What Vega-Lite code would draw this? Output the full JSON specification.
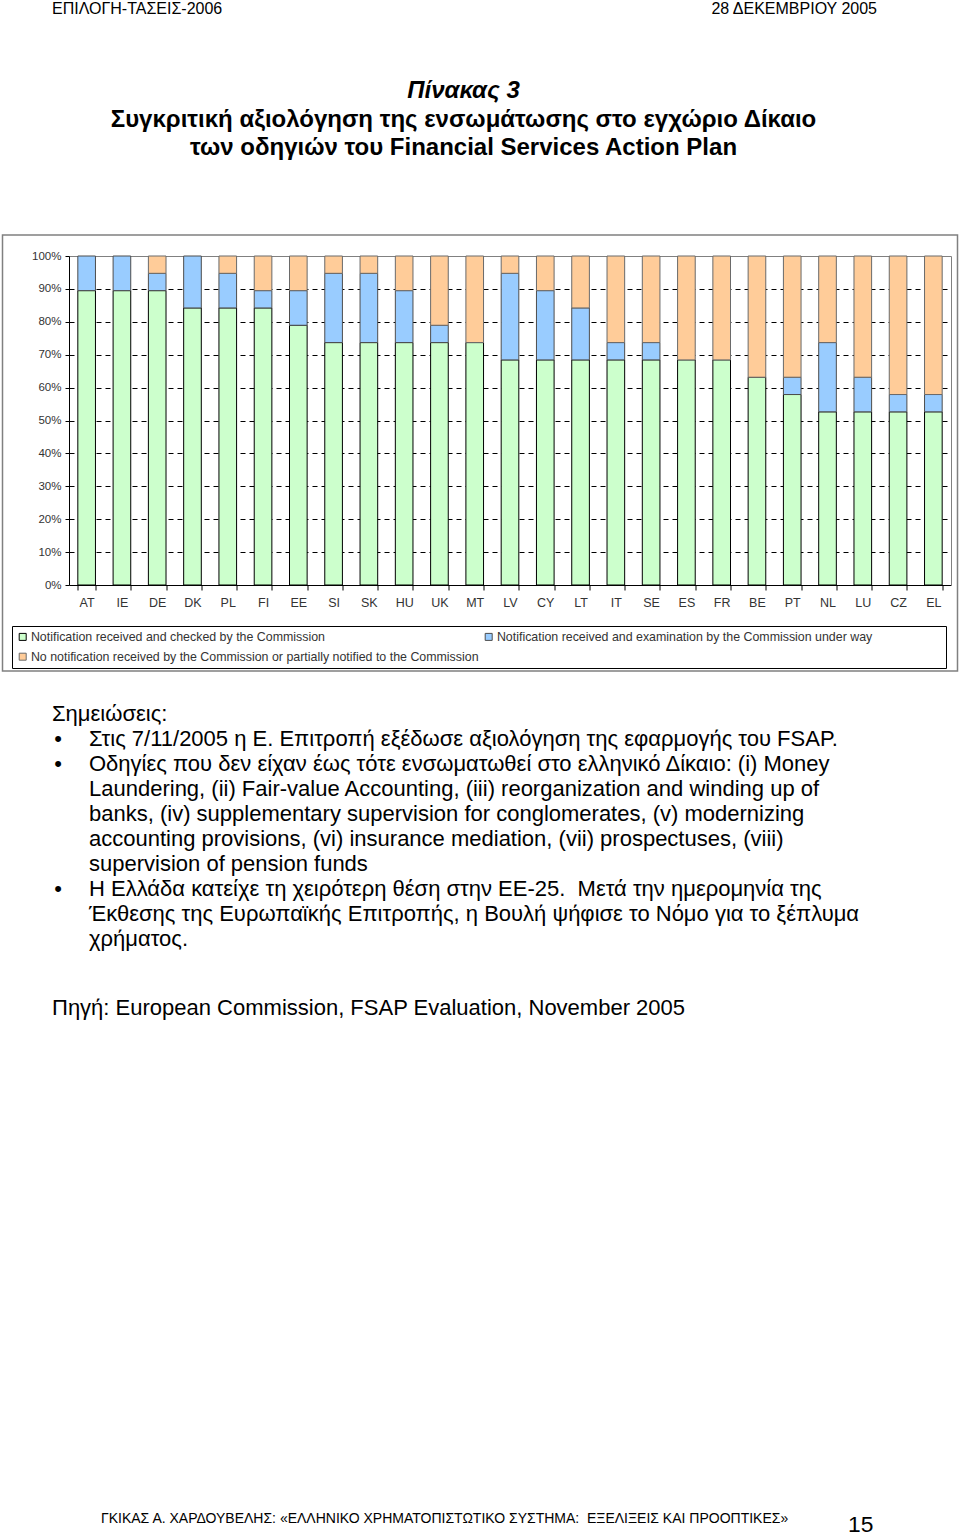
{
  "$schema": "https://vega.github.io/schema/vega-lite/v6.json",
  "padding": 0,
  "spacing": 0,
  "bounds": "flush",
  "center": true,
  "background": "white",
  "config": {"font": "Liberation Sans", "view": {"stroke": null}},
  "vconcat": [
    {
      "width": 960,
      "height": 235,
      "layer": [
        {
          "data": {"values": [{"t": "ΕΠΙΛΟΓΗ-ΤΑΣΕΙΣ-2006"}]},
          "mark": {"type": "text", "align": "left", "baseline": "middle", "fontSize": 16, "color": "#000"},
          "encoding": {"text": {"field": "t"}, "x": {"value": 52}, "y": {"value": 9}}
        },
        {
          "data": {"values": [{"t": "28  ΔΕΚΕΜΒΡΙΟΥ 2005"}]},
          "mark": {"type": "text", "align": "right", "baseline": "middle", "fontSize": 16, "color": "#000"},
          "encoding": {"text": {"field": "t"}, "x": {"value": 877}, "y": {"value": 9}}
        },
        {
          "data": {"values": [{"t": "Πίνακας 3"}]},
          "mark": {"type": "text", "align": "center", "baseline": "middle", "fontSize": 24, "fontWeight": "bold", "fontStyle": "italic", "color": "#000"},
          "encoding": {"text": {"field": "t"}, "x": {"value": 463.5}, "y": {"value": 91}}
        },
        {
          "data": {"values": [
            {"line": 1, "t": "Συγκριτική αξιολόγηση της ενσωμάτωσης στο εγχώριο Δίκαιο"},
            {"line": 2, "t": "των οδηγιών του Financial Services Action Plan"}
          ]},
          "mark": {"type": "text", "align": "center", "baseline": "middle", "fontSize": 24, "fontWeight": "bold", "color": "#000"},
          "encoding": {
            "text": {"field": "t"},
            "x": {"value": 463.5},
            "y": {"field": "line", "type": "quantitative", "scale": {"domain": [1, 2], "range": [120, 148], "nice": false, "zero": false}, "axis": null}
          }
        }
      ]
    },
    {
      "width": 955,
      "height": 436,
      "view": {"stroke": "#808080", "strokeWidth": 1.5, "fill": "white"},
      "data": {"values": [
        {"c": "AT", "s": "Notification received and checked by the Commission", "n": 17, "o": 1},
        {"c": "AT", "s": "Notification received and examination by the Commission under way", "n": 2, "o": 2},
        {"c": "IE", "s": "Notification received and checked by the Commission", "n": 17, "o": 1},
        {"c": "IE", "s": "Notification received and examination by the Commission under way", "n": 2, "o": 2},
        {"c": "DE", "s": "Notification received and checked by the Commission", "n": 17, "o": 1},
        {"c": "DE", "s": "Notification received and examination by the Commission under way", "n": 1, "o": 2},
        {"c": "DE", "s": "No notification received by the Commission or partially notified to the Commission", "n": 1, "o": 3},
        {"c": "DK", "s": "Notification received and checked by the Commission", "n": 16, "o": 1},
        {"c": "DK", "s": "Notification received and examination by the Commission under way", "n": 3, "o": 2},
        {"c": "PL", "s": "Notification received and checked by the Commission", "n": 16, "o": 1},
        {"c": "PL", "s": "Notification received and examination by the Commission under way", "n": 2, "o": 2},
        {"c": "PL", "s": "No notification received by the Commission or partially notified to the Commission", "n": 1, "o": 3},
        {"c": "FI", "s": "Notification received and checked by the Commission", "n": 16, "o": 1},
        {"c": "FI", "s": "Notification received and examination by the Commission under way", "n": 1, "o": 2},
        {"c": "FI", "s": "No notification received by the Commission or partially notified to the Commission", "n": 2, "o": 3},
        {"c": "EE", "s": "Notification received and checked by the Commission", "n": 15, "o": 1},
        {"c": "EE", "s": "Notification received and examination by the Commission under way", "n": 2, "o": 2},
        {"c": "EE", "s": "No notification received by the Commission or partially notified to the Commission", "n": 2, "o": 3},
        {"c": "SI", "s": "Notification received and checked by the Commission", "n": 14, "o": 1},
        {"c": "SI", "s": "Notification received and examination by the Commission under way", "n": 4, "o": 2},
        {"c": "SI", "s": "No notification received by the Commission or partially notified to the Commission", "n": 1, "o": 3},
        {"c": "SK", "s": "Notification received and checked by the Commission", "n": 14, "o": 1},
        {"c": "SK", "s": "Notification received and examination by the Commission under way", "n": 4, "o": 2},
        {"c": "SK", "s": "No notification received by the Commission or partially notified to the Commission", "n": 1, "o": 3},
        {"c": "HU", "s": "Notification received and checked by the Commission", "n": 14, "o": 1},
        {"c": "HU", "s": "Notification received and examination by the Commission under way", "n": 3, "o": 2},
        {"c": "HU", "s": "No notification received by the Commission or partially notified to the Commission", "n": 2, "o": 3},
        {"c": "UK", "s": "Notification received and checked by the Commission", "n": 14, "o": 1},
        {"c": "UK", "s": "Notification received and examination by the Commission under way", "n": 1, "o": 2},
        {"c": "UK", "s": "No notification received by the Commission or partially notified to the Commission", "n": 4, "o": 3},
        {"c": "MT", "s": "Notification received and checked by the Commission", "n": 14, "o": 1},
        {"c": "MT", "s": "No notification received by the Commission or partially notified to the Commission", "n": 5, "o": 3},
        {"c": "LV", "s": "Notification received and checked by the Commission", "n": 13, "o": 1},
        {"c": "LV", "s": "Notification received and examination by the Commission under way", "n": 5, "o": 2},
        {"c": "LV", "s": "No notification received by the Commission or partially notified to the Commission", "n": 1, "o": 3},
        {"c": "CY", "s": "Notification received and checked by the Commission", "n": 13, "o": 1},
        {"c": "CY", "s": "Notification received and examination by the Commission under way", "n": 4, "o": 2},
        {"c": "CY", "s": "No notification received by the Commission or partially notified to the Commission", "n": 2, "o": 3},
        {"c": "LT", "s": "Notification received and checked by the Commission", "n": 13, "o": 1},
        {"c": "LT", "s": "Notification received and examination by the Commission under way", "n": 3, "o": 2},
        {"c": "LT", "s": "No notification received by the Commission or partially notified to the Commission", "n": 3, "o": 3},
        {"c": "IT", "s": "Notification received and checked by the Commission", "n": 13, "o": 1},
        {"c": "IT", "s": "Notification received and examination by the Commission under way", "n": 1, "o": 2},
        {"c": "IT", "s": "No notification received by the Commission or partially notified to the Commission", "n": 5, "o": 3},
        {"c": "SE", "s": "Notification received and checked by the Commission", "n": 13, "o": 1},
        {"c": "SE", "s": "Notification received and examination by the Commission under way", "n": 1, "o": 2},
        {"c": "SE", "s": "No notification received by the Commission or partially notified to the Commission", "n": 5, "o": 3},
        {"c": "ES", "s": "Notification received and checked by the Commission", "n": 13, "o": 1},
        {"c": "ES", "s": "No notification received by the Commission or partially notified to the Commission", "n": 6, "o": 3},
        {"c": "FR", "s": "Notification received and checked by the Commission", "n": 13, "o": 1},
        {"c": "FR", "s": "No notification received by the Commission or partially notified to the Commission", "n": 6, "o": 3},
        {"c": "BE", "s": "Notification received and checked by the Commission", "n": 12, "o": 1},
        {"c": "BE", "s": "No notification received by the Commission or partially notified to the Commission", "n": 7, "o": 3},
        {"c": "PT", "s": "Notification received and checked by the Commission", "n": 11, "o": 1},
        {"c": "PT", "s": "Notification received and examination by the Commission under way", "n": 1, "o": 2},
        {"c": "PT", "s": "No notification received by the Commission or partially notified to the Commission", "n": 7, "o": 3},
        {"c": "NL", "s": "Notification received and checked by the Commission", "n": 10, "o": 1},
        {"c": "NL", "s": "Notification received and examination by the Commission under way", "n": 4, "o": 2},
        {"c": "NL", "s": "No notification received by the Commission or partially notified to the Commission", "n": 5, "o": 3},
        {"c": "LU", "s": "Notification received and checked by the Commission", "n": 10, "o": 1},
        {"c": "LU", "s": "Notification received and examination by the Commission under way", "n": 2, "o": 2},
        {"c": "LU", "s": "No notification received by the Commission or partially notified to the Commission", "n": 7, "o": 3},
        {"c": "CZ", "s": "Notification received and checked by the Commission", "n": 10, "o": 1},
        {"c": "CZ", "s": "Notification received and examination by the Commission under way", "n": 1, "o": 2},
        {"c": "CZ", "s": "No notification received by the Commission or partially notified to the Commission", "n": 8, "o": 3},
        {"c": "EL", "s": "Notification received and checked by the Commission", "n": 10, "o": 1},
        {"c": "EL", "s": "Notification received and examination by the Commission under way", "n": 1, "o": 2},
        {"c": "EL", "s": "No notification received by the Commission or partially notified to the Commission", "n": 8, "o": 3}
      ]},
      "layer": [
        {
          "mark": {"type": "bar", "strokeWidth": 1},
          "encoding": {
            "x": {
              "field": "c", "type": "nominal", "sort": null,
              "scale": {"range": [66.5, 948.5], "paddingInner": 0.5, "paddingOuter": 0.25},
              "axis": {"orient": "bottom", "offset": -86, "title": null, "labelAngle": 0, "labelFontSize": 12.5, "labelColor": "#333", "labelPadding": 6, "domainColor": "#000", "domainWidth": 1, "tickColor": "#000", "tickSize": 5, "tickBand": "extent", "grid": false}
            },
            "y": {
              "field": "n", "type": "quantitative", "stack": "normalize",
              "scale": {"domain": [0, 1], "range": [350, 21], "nice": false},
              "axis": {
                "orient": "left", "offset": -66.5, "title": null,
                "values": [0, 0.1, 0.2, 0.3, 0.4, 0.5, 0.6, 0.7, 0.8, 0.9, 1],
                "format": ".0%", "labelFontSize": 11.5, "labelColor": "#333", "labelPadding": 4,
                "tickSize": 4, "tickColor": "#000", "domainColor": "#000", "domainWidth": 1,
                "grid": true, "gridColor": "#000", "gridDash": [5, 4], "gridWidth": 1,
                "gridOpacity": {"condition": {"test": "datum.value <= 0 || datum.value >= 1", "value": 0}, "value": 1}
              }
            },
            "order": {"field": "o", "type": "quantitative"},
            "color": {
              "field": "s", "type": "nominal",
              "scale": {
                "domain": ["Notification received and checked by the Commission", "Notification received and examination by the Commission under way", "No notification received by the Commission or partially notified to the Commission"],
                "range": ["#CCFFCC", "#99CCFF", "#FFCC99"]
              },
              "legend": {
                "orient": "none", "legendX": 12, "legendY": 626, "title": null,
                "direction": "horizontal", "columns": 2, "columnPadding": 3, "rowPadding": 7, "padding": 4.5,
                "strokeColor": "#000", "fillColor": "white",
                "symbolType": "square", "symbolSize": 49, "symbolStrokeColor": "#555", "symbolStrokeWidth": 1,
                "labelFontSize": 12.4, "labelColor": "#333", "labelOffset": 2, "labelLimit": 1000,
                "labelExpr": "indexof(datum.label, 'examination') >= 0 ? datum.label + '\u00a0\u00a0\u00a0\u00a0\u00a0\u00a0\u00a0\u00a0\u00a0\u00a0\u00a0\u00a0\u00a0\u00a0\u00a0\u00a0\u00a0\u00a0\u00a0\u00a0\u200b' : datum.label"
              }
            },
            "stroke": {
              "field": "s", "type": "nominal",
              "scale": {
                "domain": ["Notification received and checked by the Commission", "Notification received and examination by the Commission under way", "No notification received by the Commission or partially notified to the Commission"],
                "range": ["#000000", "#4d4d4d", "#6a6a6a"]
              },
              "legend": null
            }
          }
        },
        {
          "mark": {"type": "bar", "opacity": 0},
          "encoding": {
            "x": {"field": "c", "type": "nominal", "sort": null, "axis": {"orient": "top", "offset": -21, "title": null, "labels": false, "ticks": false, "grid": false, "domainColor": "#808080", "domainWidth": 1}},
            "y": {"field": "n", "type": "quantitative", "stack": "normalize", "axis": {"orient": "right", "offset": -6.5, "title": null, "labels": false, "ticks": false, "grid": false, "domainColor": "#808080", "domainWidth": 1}},
            "detail": {"field": "s"}
          }
        }
      ],
      "resolve": {"axis": {"x": "independent", "y": "independent"}}
    },
    {
      "width": 960,
      "height": 864,
      "layer": [
        {
          "data": {"values": [{"line": 0, "t": "Σημειώσεις:"}]},
          "mark": {"type": "text", "align": "left", "baseline": "middle", "fontSize": 22, "color": "#000"},
          "encoding": {
            "text": {"field": "t"}, "x": {"value": 52},
            "y": {"field": "line", "type": "quantitative", "scale": {"domain": [0, 1], "range": [43, 68], "nice": false, "zero": false}, "axis": null}
          }
        },
        {
          "data": {"values": [{"line": 1, "t": "•"}, {"line": 2, "t": "•"}, {"line": 7, "t": "•"}]},
          "mark": {"type": "text", "align": "center", "baseline": "middle", "fontSize": 22, "color": "#000"},
          "encoding": {
            "text": {"field": "t"}, "x": {"value": 58},
            "y": {"field": "line", "type": "quantitative", "scale": {"domain": [0, 1], "range": [43, 68], "nice": false, "zero": false}, "axis": null}
          }
        },
        {
          "data": {"values": [
            {"line": 1, "t": "Στις 7/11/2005 η Ε. Επιτροπή εξέδωσε αξιολόγηση της εφαρμογής του FSAP."},
            {"line": 2, "t": "Οδηγίες που δεν είχαν έως τότε ενσωματωθεί στο ελληνικό Δίκαιο: (i) Money"},
            {"line": 3, "t": "Laundering, (ii) Fair-value Accounting, (iii) reorganization and winding up of"},
            {"line": 4, "t": "banks, (iv) supplementary supervision for conglomerates, (v) modernizing"},
            {"line": 5, "t": "accounting provisions, (vi) insurance mediation, (vii) prospectuses, (viii)"},
            {"line": 6, "t": "supervision of pension funds"},
            {"line": 7, "t": "Η Ελλάδα κατείχε τη χειρότερη θέση στην ΕΕ-25.\u00a0 Μετά την ημερομηνία της"},
            {"line": 8, "t": "Έκθεσης της Ευρωπαϊκής Επιτροπής, η Βουλή ψήφισε το Νόμο για το ξέπλυμα"},
            {"line": 9, "t": "χρήματος."}
          ]},
          "mark": {"type": "text", "align": "left", "baseline": "middle", "fontSize": 22, "color": "#000"},
          "encoding": {
            "text": {"field": "t"}, "x": {"value": 89},
            "y": {"field": "line", "type": "quantitative", "scale": {"domain": [0, 1], "range": [43, 68], "nice": false, "zero": false}, "axis": null}
          }
        },
        {
          "data": {"values": [{"t": "Πηγή: European Commission, FSAP Evaluation, November 2005"}]},
          "mark": {"type": "text", "align": "left", "baseline": "middle", "fontSize": 22, "color": "#000"},
          "encoding": {"text": {"field": "t"}, "x": {"value": 52}, "y": {"value": 337}}
        },
        {
          "data": {"values": [{"t": "ΓΚΙΚΑΣ Α. ΧΑΡΔΟΥΒΕΛΗΣ: «ΕΛΛΗΝΙΚΟ ΧΡΗΜΑΤΟΠΙΣΤΩΤΙΚΟ ΣΥΣΤΗΜΑ:\u00a0 ΕΞΕΛΙΞΕΙΣ ΚΑΙ ΠΡΟΟΠΤΙΚΕΣ»"}]},
          "mark": {"type": "text", "align": "left", "baseline": "middle", "fontSize": 14, "color": "#000"},
          "encoding": {"text": {"field": "t"}, "x": {"value": 101}, "y": {"value": 848}}
        },
        {
          "data": {"values": [{"t": "15"}]},
          "mark": {"type": "text", "align": "left", "baseline": "middle", "fontSize": 22.8, "color": "#000"},
          "encoding": {"text": {"field": "t"}, "x": {"value": 848}, "y": {"value": 854}}
        }
      ]
    }
  ]
}
